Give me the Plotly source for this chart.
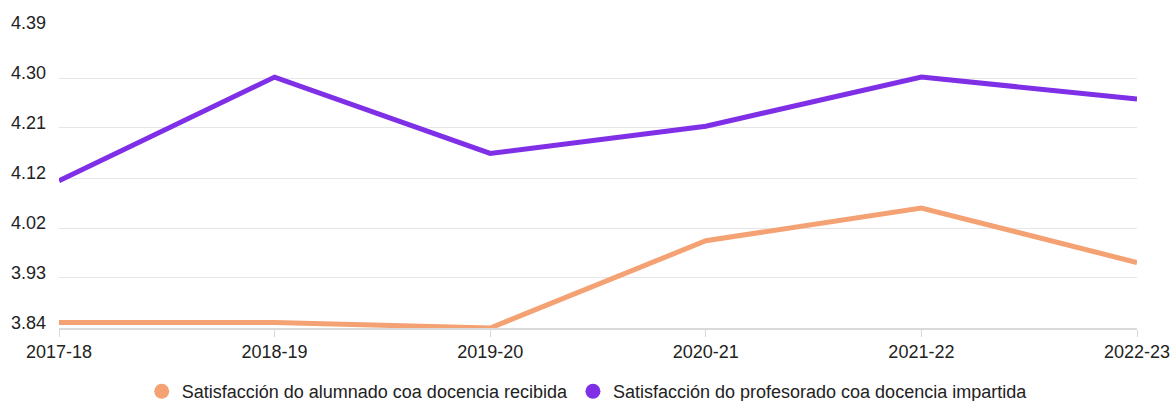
import plotly.graph_objects as go

years = ["2017-18", "2018-19", "2019-20", "2020-21", "2021-22", "2022-23"]
alumnado = [3.85, 3.85, 3.84, 4.00, 4.06, 3.96]
profesorado = [4.11, 4.30, 4.16, 4.21, 4.30, 4.26]
name_alumnado = "Satisfacción do alumnado coa docencia recibida"
name_profesorado = "Satisfacción do profesorado coa docencia impartida"
ytick_vals = [3.84, 3.9317, 4.0233, 4.115, 4.2067, 4.2983, 4.39]
ytick_text = ["3.84", "3.93", "4.02", "4.12", "4.21", "4.30", "4.39"]

c_orange = "#f4a173"
c_purple = "#7f2fe6"

fig = go.Figure()
for name, vals, col in [(name_alumnado, alumnado, c_orange), (name_profesorado, profesorado, c_purple)]:
    fig.add_trace(go.Scatter(x=years, y=vals, mode="lines", name=name,
                             line=dict(color=col, width=5), showlegend=False,
                             hoverinfo="x+y"))
    fig.add_trace(go.Scatter(x=[None], y=[None], mode="markers", name=name,
                             marker=dict(color=col, size=15, symbol="circle"),
                             showlegend=True))

fig.update_layout(
    width=1174, height=401,
    margin=dict(l=59, r=37, t=28, b=73, autoexpand=False),
    paper_bgcolor="white", plot_bgcolor="white",
    font=dict(family="Liberation Sans, Arial, sans-serif", size=18, color="#222"),
    legend=dict(orientation="h", x=0.49, xanchor="center", y=-0.15, yanchor="top",
                font=dict(size=18, color="#222"), itemwidth=30,
                tracegroupgap=0, traceorder="normal"),
    xaxis=dict(type="category", range=[0, 5], showgrid=False, showline=True,
               linecolor="#d9d9d9", linewidth=1.5, ticks="outside", ticklen=7,
               tickcolor="#d9d9d9", tickfont=dict(size=18, color="#222"),
               zeroline=False, automargin=False),
    yaxis=dict(range=[3.84, 4.39], tickvals=ytick_vals, ticktext=ytick_text,
               showgrid=True, gridcolor="#e6e6e6", gridwidth=1, zeroline=False,
               showline=False, ticks="", ticklabelstandoff=12, ticklabelshift=-5,
               tickfont=dict(size=18, color="#222"), automargin=False),
)

fig.write_html("out.html",
               config={"displayModeBar": False},
               post_script="document.body.style.margin='0';document.body.style.overflow='hidden';")
